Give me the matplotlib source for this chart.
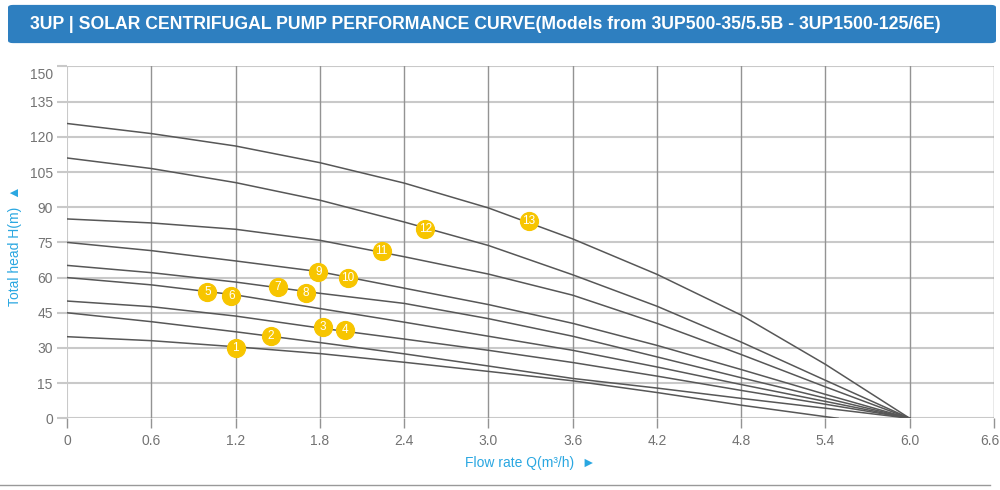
import matplotlib
matplotlib.use('Agg')
import matplotlib.pyplot as plt
from matplotlib.patches import FancyBboxPatch
from matplotlib.lines import Line2D
from matplotlib.transforms import ScaledTranslation
from matplotlib import font_manager

plt.rcParams['font.family'] = ['Liberation Sans', 'DejaVu Sans']

# flow rate points (m3/h)
flow = [0, 0.6, 1.2, 1.8, 2.4, 3.0, 3.6, 4.2, 4.8, 5.4, 6.0]
flow_short = [0, 0.6, 1.2, 1.8, 2.4, 3.0, 3.6, 4.2, 4.8, 5.4, 5.49]

# head curves (m), one per impeller set
head_35 = [34.8, 33.1, 30.5, 27.6, 23.9, 20.0, 16.0, 11.0, 5.6, 0.7, 0]
head_45 = [45.0, 41.2, 36.9, 32.3, 27.5, 22.3, 17.0, 12.9, 8.5, 4.3, 0]
head_50 = [50.0, 47.6, 43.6, 38.5, 33.8, 29.0, 23.8, 18.0, 11.9, 6.0, 0]
head_60 = [60.0, 56.9, 52.6, 46.8, 41.0, 35.0, 29.0, 21.9, 14.4, 7.2, 0]
head_65 = [65.2, 62.1, 58.1, 53.3, 49.0, 42.5, 35.0, 26.2, 17.3, 8.6, 0]
head_75 = [75.0, 71.5, 67.1, 62.5, 55.5, 48.5, 40.5, 31.1, 20.8, 10.2, 0]
head_85 = [85.0, 83.3, 80.6, 75.9, 68.9, 61.5, 52.5, 40.5, 27.2, 13.4, 0]
head_110 = [111.0, 106.5, 100.5, 93.0, 83.7, 73.7, 61.2, 47.8, 32.5, 16.2, 0]
head_125 = [125.7, 121.4, 116.1, 109.0, 100.3, 89.7, 76.5, 61.4, 44.0, 23.0, 0]

# model number badges
badge_ids = ['1', '2', '3', '4', '5', '6', '7', '8', '9', '10', '11', '12', '13']
badge_q = [1.20, 1.45, 1.82, 1.98, 1.00, 1.17, 1.50, 1.70, 1.79, 2.00, 2.24, 2.55, 3.29]
badge_h = [29.9, 35.1, 38.8, 37.7, 53.8, 52.2, 55.9, 53.3, 62.4, 59.8, 71.3, 80.9, 84.0]

x_ticks = [0, 0.6, 1.2, 1.8, 2.4, 3.0, 3.6, 4.2, 4.8, 5.4, 6.0, 6.6]
x_labels = ['0', '0.6', '1.2', '1.8', '2.4', '3.0', '3.6', '4.2', '4.8', '5.4', '6.0', '6.6']
y_ticks = [0, 15, 30, 45, 60, 75, 90, 105, 120, 135, 150]

title = '3UP | SOLAR CENTRIFUGAL PUMP PERFORMANCE CURVE(Models from 3UP500-35/5.5B - 3UP1500-125/6E)'

curve_color = '#575757'
hgrid = '#c9c9c9'
vgrid = '#939393'
blue = '#2aa7e1'

fig = plt.figure(figsize=(10, 4.9), dpi=100)
ax = fig.add_axes([0.067, 0.1463, 0.927, 0.718])

for yv in y_ticks:
    ax.axhline(yv, color=hgrid, lw=1.5, zorder=1)
for xv in x_ticks[1:]:
    ax.axvline(xv, color=vgrid, lw=1.0, zorder=1)
ax.axvline(0, color=hgrid, lw=1.5, zorder=1)

for h in [head_45, head_50, head_60, head_65, head_75, head_85, head_110, head_125]:
    ax.plot(flow, h, color=curve_color, lw=1.1, zorder=3, solid_joinstyle='round')
ax.plot(flow_short, head_35, color=curve_color, lw=1.1, zorder=3, solid_joinstyle='round')

ax.scatter(badge_q, badge_h, s=165, color='#f7c500', edgecolors='#f7c500', zorder=4)
for t, q, h in zip(badge_ids, badge_q, badge_h):
    ax.text(q, h, t, color='white', fontsize=8.5, ha='center', va='center', zorder=5)

ax.set_xlim(0, 6.6)
ax.set_ylim(0, 150)
ax.set_xticks(x_ticks)
ax.set_xticklabels(x_labels)
ax.set_yticks(y_ticks)
for s in ax.spines.values():
    s.set_visible(False)
ax.tick_params(axis='x', length=7.2, width=1.0, color=vgrid, labelsize=10, labelcolor='#737373', pad=4)
ax.tick_params(axis='y', length=7.2, width=1.5, color=hgrid, labelsize=10, labelcolor='#737373', pad=3)

last = ax.get_xticklabels()[-1]
last.set_horizontalalignment('right')
last.set_transform(last.get_transform() + ScaledTranslation(4 / 72, 0, fig.dpi_scale_trans))
top = ax.get_yticklabels()[-1]
top.set_transform(top.get_transform() + ScaledTranslation(0, -5 / 72, fig.dpi_scale_trans))

fig.text(0.015, 0.498, 'Total head H(m)  \u25B2', rotation=90, color=blue, fontsize=10,
         ha='center', va='center')
fig.text(0.53, 0.055, 'Flow rate Q(m\u00B3/h)  \u25BA', color=blue, fontsize=10,
         ha='center', va='center')

# header bar
fig.patches.append(FancyBboxPatch((0.008, 0.912), 0.988, 0.078,
                                  boxstyle='round,pad=0,rounding_size=0.005',
                                  transform=fig.transFigure, facecolor='#2e7fc0',
                                  edgecolor='none'))
try:
    font_manager.findfont('Liberation Sans Narrow', fallback_to_default=False)
    title_family = ['Liberation Sans Narrow', 'Liberation Sans']
except Exception:
    title_family = ['Liberation Sans', 'DejaVu Sans']
ttl = fig.text(0.03, 0.951, title, color='white', fontsize=12, fontweight='bold',
               family=title_family, ha='left', va='center')
fig.canvas.draw()
w = ttl.get_window_extent().width
ttl.set_fontsize(12 * 905 / w)

fig.lines.append(Line2D([0, 0.99], [0.01, 0.01], transform=fig.transFigure, color='#999999', lw=1))

fig.savefig('out.png', dpi=100)
